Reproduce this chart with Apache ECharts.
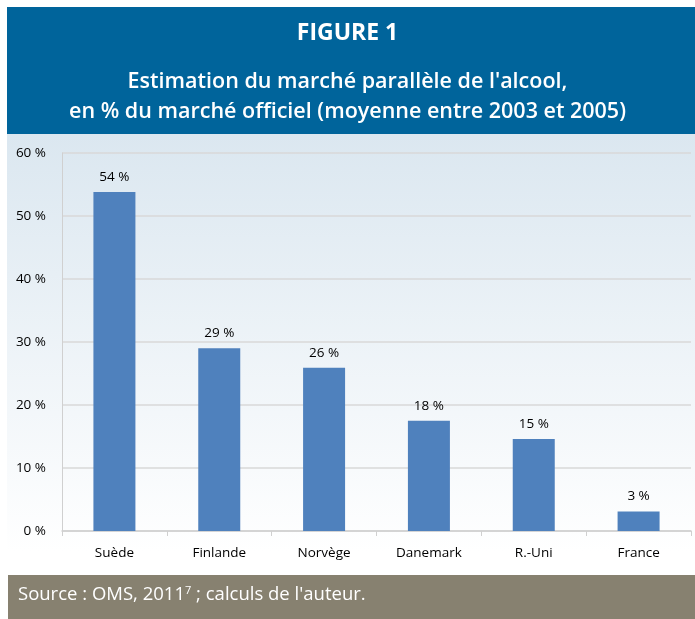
<!DOCTYPE html>
<html><head><meta charset="utf-8">
<script src="https://cdn.jsdelivr.net/npm/echarts@6/dist/echarts.min.js"></script>
<style>html,body{margin:0;padding:0;background:#fff}#c{width:695px;height:619px}</style>
</head><body><div id="c"></div>
<script>
const categories = ['Suède','Finlande','Norvège','Danemark','R.-Uni','France'];
const values = [53.8, 29.0, 25.9, 17.5, 14.6, 3.1];
const labels = ['54 %','29 %','26 %','18 %','15 %','3 %'];
const yTicks = [0,10,20,30,40,50,60];

const chart = echarts.init(document.getElementById('c'), null, {renderer:'canvas'});
const font = 'Open Sans, Noto Sans, sans-serif';
chart.setOption({
  animation:false,
  graphic:[
    {type:'rect', shape:{x:7,y:7,width:688,height:127}, style:{fill:'#00649b'}, z:-10},
    {type:'rect', shape:{x:7,y:134,width:688,height:418}, style:{fill:new echarts.graphic.LinearGradient(0,0,0,1,[{offset:0,color:'#dbe7f0'},{offset:1,color:'#ffffff'}])}, z:-10},
    {type:'rect', shape:{x:8,y:575,width:687,height:44}, style:{fill:'#878170'}, z:-10},
    {type:'text', left:18, top:585, style:{text:'Source : OMS, 2011{s|7} ; calculs de l\'auteur.', rich:{s:{fontSize:11, verticalAlign:'top', padding:[0,0,9,0], fill:'#fff', fontFamily:font}}, fill:'#fff', fontSize:18.5, fontFamily:font}, z:10}
  ],
  title:[
    {text:'FIGURE 1', left:'center', top:17, padding:[5,0,5,14], textStyle:{color:'#fff', fontSize:23, fontWeight:'bold', fontFamily:font}},
    {text:"Estimation du marché parallèle de l'alcool,\nen % du marché officiel (moyenne entre 2003 et 2005)", left:'center', top:62, padding:[5,0,5,12], textStyle:{color:'#fff', fontSize:21.5, fontWeight:600, lineHeight:30, fontFamily:font}}
  ],
  grid:{left:62, right:4, top:153, bottom:88, containLabel:false},
  xAxis:{type:'category', data:categories, boundaryGap:true,
    axisLine:{lineStyle:{color:'#d0d0d0', width:1.5}},
    axisTick:{show:true, length:5, lineStyle:{color:'#d0d0d0'}},
    axisLabel:{color:'#000', fontSize:13.5, fontFamily:font, margin:15}},
  yAxis:{type:'value', min:0, max:60, interval:10,
    axisLine:{show:true, lineStyle:{color:'#d0d0d0'}},
    axisTick:{show:false},
    splitLine:{lineStyle:{color:'#d9d9d9', width:1.5}},
    axisLabel:{color:'#000', fontSize:13.5, fontFamily:font, margin:16, formatter:v=>v+' %'}},
  series:[{type:'bar', data:values, barWidth:42, itemStyle:{color:'#4f81bd'},
    label:{show:true, position:'top', distance:8, color:'#000', fontSize:13.5, fontFamily:font, formatter:p=>labels[p.dataIndex]}}]
});
</script></body></html>
